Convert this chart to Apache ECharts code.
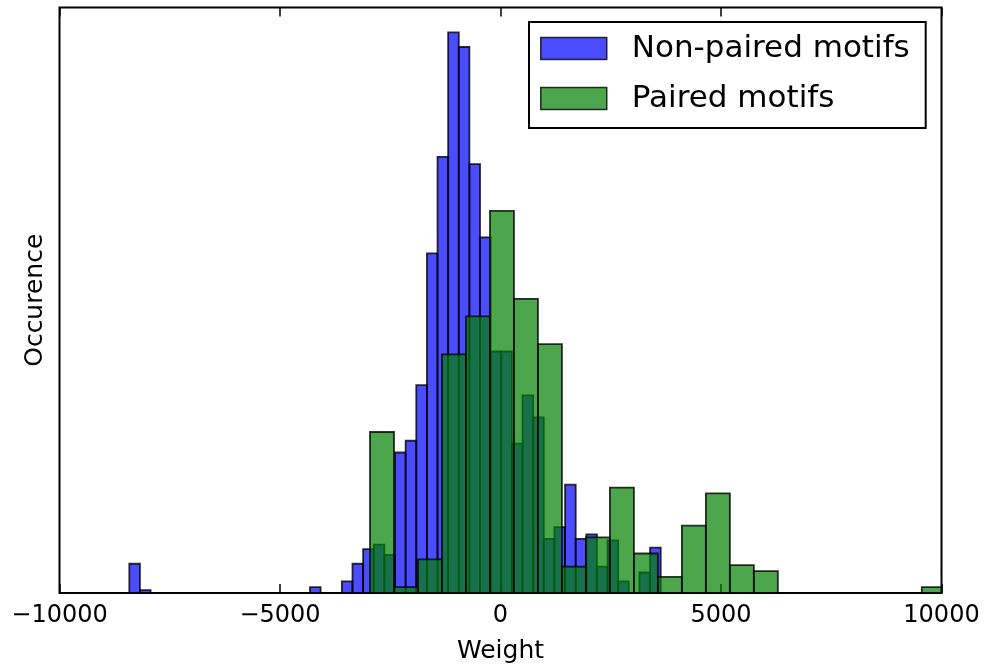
<!DOCTYPE html>
<html>
<head>
<meta charset="utf-8">
<script src="https://cdn.jsdelivr.net/npm/echarts@6/dist/echarts.min.js"></script>
<style>
  html, body { margin: 0; padding: 0; background: #fff; }
  #chart { width: 984px; height: 669px; }
</style>
</head>
<body>
<div id="chart"></div>
<script>
// 直方图数据 (从图上读出的高度, 纵轴 0-200)
var seriesNames = ['Non-paired motifs', 'Paired motifs'];
var xTicks = [-10000, -5000, 0, 5000, 10000];

// 非配对: 50 个 bin
var blueStart = -8417;
var blueWidth = 241;
var blueValues = [10, 1, 0, 0, 0, 0, 0, 0, 0, 0,
                  0, 0, 0, 0, 0, 0, 0, 2, 0, 0,
                  4, 10, 15, 16.5, 13, 48, 52, 71, 116, 149,
                  191.5, 186.5, 146.5, 121.5, 82.5, 82.5, 51, 67.5, 60, 18.5,
                  22.5, 37, 18.5, 20, 9, 18, 4, 0, 7, 15.5];

// 配对: 24 个 bin
var greenStart = -2959;
var greenWidth = 544;
var greenValues = [55, 2, 11.5, 81.5, 94.5, 130.5, 100.5, 85, 9, 19,
                   36, 13.5, 5.5, 23, 34, 9.5, 7.5, 0, 0, 0,
                   0, 0, 0, 2];

function toBins(start, width, values) {
    var out = [];
    for (var i = 0; i < values.length; i++) {
        if (values[i] > 0) {
            out.push([start + i * width, start + (i + 1) * width, values[i]]);
        }
    }
    return out;
}

// 每个 bin 画成一个矩形, 超出坐标区的部分裁掉
function renderBar(params, api) {
    var p0 = api.coord([api.value(0), api.value(2)]);
    var p1 = api.coord([api.value(1), 0]);
    var shape = echarts.graphic.clipRectByRect({
        x: p0[0], y: p0[1], width: p1[0] - p0[0], height: p1[1] - p0[1]
    }, {
        x: params.coordSys.x, y: params.coordSys.y,
        width: params.coordSys.width, height: params.coordSys.height
    });
    if (!shape) return;
    return {
        type: 'rect',
        shape: shape,
        style: api.style({ stroke: 'rgba(0,0,0,0.8)', lineWidth: 1.8 })
    };
}

var blueColor = 'rgba(0,0,255,0.7)';
var greenColor = 'rgba(0,128,0,0.7)';

var chart = echarts.init(document.getElementById('chart'));

var option = {
    animation: false,
    textStyle: { fontFamily: 'DejaVu Sans', color: '#000' },
    grid: {
        left: 59.5, top: 7.5, width: 882, height: 586.5,
        show: true, borderColor: '#000', borderWidth: 2, backgroundColor: 'transparent'
    },
    legend: {
        orient: 'vertical',
        left: 529, top: 22,
        icon: 'rect',
        itemWidth: 66, itemHeight: 22,
        itemGap: 19,
        padding: [11, 16, 14, 11],
        borderColor: '#000', borderWidth: 2,
        backgroundColor: '#fff',
        textStyle: { fontSize: 31, lineHeight: 31, color: '#000', fontFamily: 'DejaVu Sans', padding: [0, 0, 0, 20] },
        data: [
            { name: seriesNames[0], itemStyle: { color: blueColor, borderColor: 'rgba(0,0,0,0.8)', borderWidth: 1.5 } },
            { name: seriesNames[1], itemStyle: { color: greenColor, borderColor: 'rgba(0,0,0,0.8)', borderWidth: 1.5 } }
        ]
    },
    xAxis: [{
        type: 'value',
        min: xTicks[0], max: xTicks[xTicks.length - 1], interval: 5000,
        name: 'Weight', nameLocation: 'middle', nameGap: 46,
        nameTextStyle: { fontSize: 25, color: '#000' },
        axisLine: { show: false },
        axisTick: { show: true, inside: true, length: 9, lineStyle: { color: '#000', width: 1.5 } },
        axisLabel: {
            fontSize: 24, color: '#000', margin: 11,
            formatter: function (v) { return String(v).replace('-', '\u2212'); }
        },
        splitLine: { show: false }
    }, {
        type: 'value', position: 'top',
        min: xTicks[0], max: xTicks[xTicks.length - 1], interval: 5000,
        axisLine: { show: false },
        axisTick: { show: true, inside: true, length: 9, lineStyle: { color: '#000', width: 1.5 } },
        axisLabel: { show: false },
        splitLine: { show: false }
    }],
    yAxis: {
        type: 'value', min: 0, max: 200,
        name: 'Occurence', nameLocation: 'middle', nameGap: 12,
        nameTextStyle: { fontSize: 25, color: '#000' },
        axisLine: { show: false },
        axisTick: { show: false },
        axisLabel: { show: false },
        splitLine: { show: false }
    },
    series: [{
        name: seriesNames[0],
        type: 'custom',
        renderItem: renderBar,
        itemStyle: { color: blueColor },
        encode: { x: [0, 1], y: 2 },
        data: toBins(blueStart, blueWidth, blueValues)
    }, {
        name: seriesNames[1],
        type: 'custom',
        renderItem: renderBar,
        itemStyle: { color: greenColor },
        encode: { x: [0, 1], y: 2 },
        data: toBins(greenStart, greenWidth, greenValues)
    }]
};

chart.setOption(option);
</script>
</body>
</html>
